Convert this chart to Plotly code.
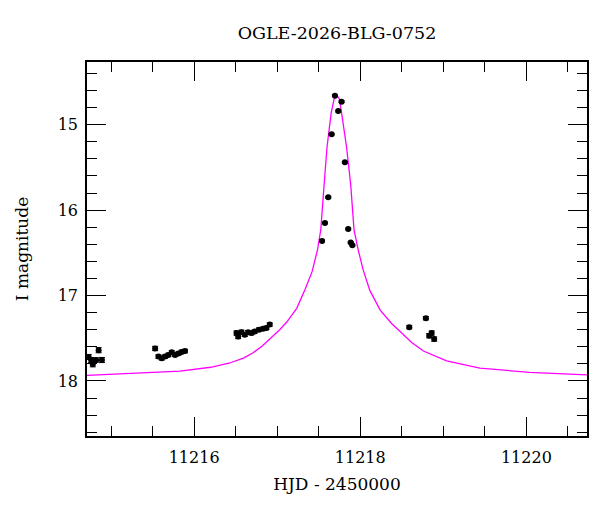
import plotly.graph_objects as go

# photometry points
hjd = [11214.73, 11214.76, 11214.78, 11214.82, 11214.85, 11214.89,
       11215.53, 11215.57, 11215.61, 11215.65, 11215.69, 11215.73, 11215.77, 11215.81, 11215.85, 11215.89,
       11216.51, 11216.53, 11216.57, 11216.61, 11216.65, 11216.69, 11216.73, 11216.78, 11216.83, 11216.87, 11216.91,
       11217.54, 11217.575, 11217.615, 11217.655, 11217.695, 11217.735, 11217.775, 11217.815, 11217.855, 11217.885, 11217.905,
       11218.59, 11218.79, 11218.83, 11218.86, 11218.89]
mag = [17.72, 17.755, 17.805, 17.755, 17.64, 17.755,
       17.62, 17.715, 17.735, 17.715, 17.695, 17.665, 17.695, 17.68, 17.66, 17.65,
       17.44, 17.48, 17.43, 17.46, 17.43, 17.44, 17.42, 17.40, 17.39, 17.38, 17.34,
       16.36, 16.15, 15.85, 15.11, 14.66, 14.84, 14.73, 15.44, 16.22, 16.38, 16.41,
       17.37, 17.265, 17.47, 17.44, 17.51]
mag_err = [0.03, 0.03, 0.03, 0.025, 0.03, 0.03,
           0.025, 0.02, 0.02, 0.02, 0.02, 0.02, 0.02, 0.02, 0.02, 0.02,
           0.025, 0.025, 0.025, 0.02, 0.02, 0.02, 0.02, 0.02, 0.02, 0.02, 0.02,
           0.01, 0.01, 0.01, 0.01, 0.01, 0.01, 0.01, 0.01, 0.01, 0.01, 0.01,
           0.02, 0.02, 0.025, 0.025, 0.025]

# model curve
model_hjd = [11214.71, 11215.23, 11215.83, 11216.20, 11216.43, 11216.60, 11216.71, 11216.82,
             11216.92, 11217.03, 11217.115, 11217.235, 11217.335, 11217.42, 11217.485, 11217.525,
             11217.565, 11217.60, 11217.65, 11217.685, 11217.715, 11217.75, 11217.775, 11217.835,
             11217.885, 11217.925, 11217.975, 11218.035, 11218.115, 11218.24, 11218.38, 11218.48,
             11218.62, 11218.76, 11219.04, 11219.44, 11220.04, 11220.73]
model_mag = [17.935, 17.91, 17.885, 17.84, 17.79, 17.73, 17.67, 17.59,
             17.50, 17.40, 17.31, 17.15, 16.93, 16.72, 16.465, 16.23,
             15.70, 15.26, 14.86, 14.70, 14.65, 14.70, 14.86, 15.26,
             15.70, 16.23, 16.465, 16.70, 16.94, 17.17, 17.33, 17.42,
             17.55, 17.65, 17.765, 17.85, 17.90, 17.93]

font = dict(family="DejaVu Serif", size=16, color="black")
title_font = dict(family="DejaVu Serif", size=17, color="black")

fig = go.Figure()
fig.add_trace(go.Scatter(
    x=model_hjd, y=model_mag, mode="lines",
    line=dict(color="#ff00ff", width=1.3),
    showlegend=False, hoverinfo="skip",
))
fig.add_trace(go.Scatter(
    x=hjd, y=mag, mode="markers",
    marker=dict(color="black", size=6),
    error_y=dict(type="data", array=mag_err, color="black", thickness=1, width=3),
    showlegend=False,
))

axis = dict(
    showgrid=False, zeroline=False,
    showline=True, linecolor="black", linewidth=1.5, mirror="allticks",
    ticks="inside", ticklen=19, tickwidth=1, tickcolor="black",
    tickfont=font,
)

# the page puts the figure 8px in from the top left corner
fig.update_layout(
    width=600, height=512,
    margin=dict(l=79, r=21, t=54, b=84),
    plot_bgcolor="white", paper_bgcolor="white",
    font=font,
    title=dict(text="OGLE-2026-BLG-0752", x=0.5, xref="paper",
               y=1 - 25 / 512, yref="container", yanchor="middle",
               font=dict(family="DejaVu Serif", size=17.5, color="black")),
    xaxis=dict(axis, range=[11214.71, 11220.73], tick0=11216, dtick=2, tickformat="d",
               ticklabelstandoff=6,
               minor=dict(tick0=11216, dtick=0.5, ticks="inside", ticklen=10, tickcolor="black"),
               title=dict(text="HJD - 2450000", font=title_font, standoff=12)),
    yaxis=dict(axis, range=[18.645, 14.265], tick0=15, dtick=1,
               ticklabelstandoff=4,
               minor=dict(tick0=15, dtick=0.2, ticks="inside", ticklen=10, tickcolor="black"),
               title=dict(text="I magnitude", font=title_font, standoff=25)),
)

fig.write_html("out.html")
